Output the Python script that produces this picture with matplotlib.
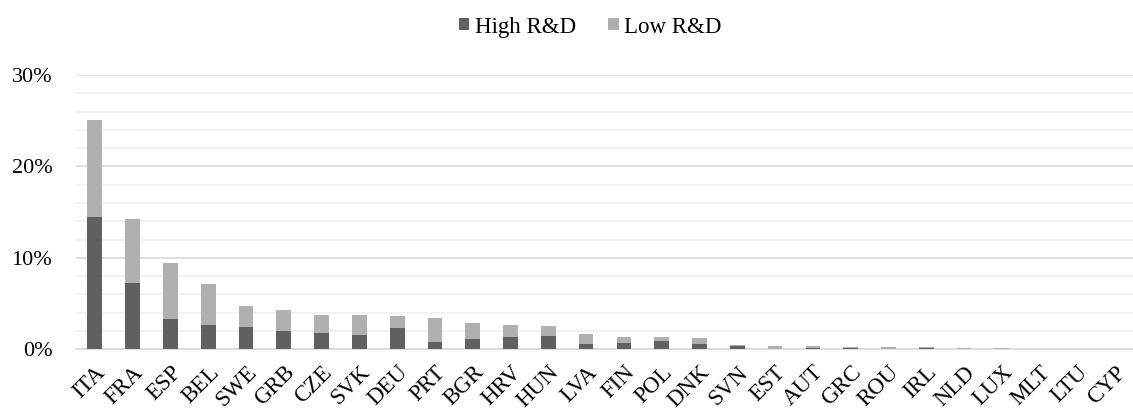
import matplotlib.pyplot as plt
from matplotlib.ticker import MultipleLocator, PercentFormatter

paises = ['ITA', 'FRA', 'ESP', 'BEL', 'SWE', 'GRB', 'CZE', 'SVK', 'DEU', 'PRT',
          'BGR', 'HRV', 'HUN', 'LVA', 'FIN', 'POL', 'DNK', 'SVN', 'EST', 'AUT',
          'GRC', 'ROU', 'IRL', 'NLD', 'LUX', 'MLT', 'LTU', 'CYP']

# participación (%) por intensidad de I+D
high_rd = [14.5, 7.3, 3.3, 2.7, 2.5, 2.0, 1.8, 1.6, 2.3, 0.8,
           1.1, 1.4, 1.5, 0.55, 0.65, 0.9, 0.55, 0.35, 0.05, 0.2,
           0.2, 0.05, 0.1, 0.02, 0.02, 0.01, 0.01, 0.0]
low_rd = [10.6, 7.0, 6.1, 4.5, 2.2, 2.3, 2.0, 2.15, 1.3, 2.6,
          1.8, 1.3, 1.1, 1.15, 0.7, 0.4, 0.7, 0.15, 0.35, 0.2,
          0.1, 0.2, 0.15, 0.13, 0.13, 0.04, 0.03, 0.01]

plt.rcParams['font.family'] = ['Liberation Serif', 'DejaVu Serif']

fig = plt.figure(figsize=(11.33, 4.12), dpi=100)
# el area de grafico sigue hasta el borde derecho
ax = fig.add_axes([0.067, 0.152, 0.934, 0.666])

x = range(len(paises))
ax.bar(x, high_rd, width=0.39, color='#606060', label='High R&D', zorder=3)
ax.bar(x, low_rd, width=0.39, bottom=high_rd, color='#b0b0b0', label='Low R&D', zorder=3)

ax.set_ylim(0, 30)
ax.set_xlim(-0.5, len(paises) - 0.5)
ax.yaxis.set_major_locator(MultipleLocator(10))
ax.yaxis.set_minor_locator(MultipleLocator(2))
ax.yaxis.set_major_formatter(PercentFormatter(decimals=0))
ax.grid(axis='y', which='major', color='#d9d9d9', linewidth=1.2, zorder=0)
ax.grid(axis='y', which='minor', color='#f0f0f0', linewidth=1.2, zorder=0)

for s in ['top', 'right', 'left']:
    ax.spines[s].set_visible(False)
ax.spines['bottom'].set_color('#d9d9d9')
ax.spines['bottom'].set_linewidth(1.2)

ax.set_xticks(list(x))
ax.set_xticklabels(paises, rotation=45, ha='right', rotation_mode='anchor', fontsize=16.5)
ax.tick_params(axis='both', which='both', length=0)
ax.tick_params(axis='y', which='major', labelsize=16, pad=17)
ax.tick_params(axis='x', pad=9)

fig.legend(loc='upper center', bbox_to_anchor=(0.521, 1.01), ncol=2, frameon=False,
           fontsize=16.5, handlelength=0.45, handleheight=0.45, handletextpad=0.25,
           columnspacing=1.4)

fig.savefig('out.png', dpi=100)
